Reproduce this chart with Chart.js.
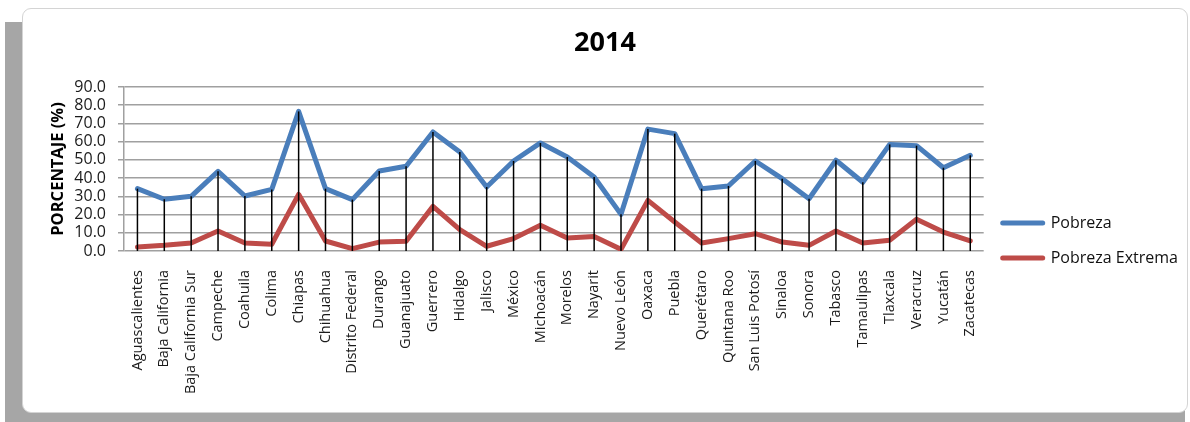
<!DOCTYPE html>
<html>
<head>
<meta charset="utf-8">
<script src="https://cdn.jsdelivr.net/npm/chart.js@4"></script>
<style>
  html, body { margin: 0; padding: 0; background: #fff; }
  #shadow { position: absolute; left: 5px; top: 22px; width: 1180px; height: 400px; background: #a6a6a6; }
  #frame { position: absolute; left: 22px; top: 8px; width: 1164px; height: 403px; background: #fff;
           border: 1px solid #d4d4d4; border-radius: 9px; }
  #wrap { position: absolute; left: 22px; top: 8px; width: 1166px; height: 405px; }
</style>
</head>
<body>
<div id="shadow"></div>
<div id="frame"></div>
<div id="wrap"><canvas id="chart" width="1166" height="405"></canvas></div>
<script>
// Entidades federativas
const estados = [
  'Aguascalientes', 'Baja California', 'Baja California Sur', 'Campeche', 'Coahuila', 'Colima',
  'Chiapas', 'Chihuahua', 'Distrito Federal', 'Durango', 'Guanajuato', 'Guerrero', 'Hidalgo',
  'Jalisco', 'México', 'Michoacán', 'Morelos', 'Nayarit', 'Nuevo León', 'Oaxaca', 'Puebla',
  'Querétaro', 'Quintana Roo', 'San Luis Potosí', 'Sinaloa', 'Sonora', 'Tabasco', 'Tamaulipas',
  'Tlaxcala', 'Veracruz', 'Yucatán', 'Zacatecas'
];

// Porcentaje de población en pobreza, 2014
const pobreza = [
  34.2, 28.4, 30.0, 43.7, 30.2, 33.8, 76.6, 34.2, 28.2, 43.9, 46.5, 65.3, 54.3, 35.1, 49.4, 59.3,
  51.6, 40.6, 20.1, 66.9, 64.4, 34.2, 35.7, 49.4, 39.7, 28.7, 49.8, 37.7, 58.5, 57.8, 45.7, 52.5
];

// Porcentaje de población en pobreza extrema, 2014
const pobrezaExtrema = [
  2.2, 3.1, 4.4, 11.0, 4.4, 3.7, 31.1, 5.5, 1.3, 4.9, 5.3, 24.5, 11.7, 2.6, 6.8, 14.1,
  7.1, 8.0, 0.9, 27.8, 15.9, 4.4, 6.8, 9.5, 4.9, 3.1, 11.0, 4.4, 5.9, 17.4, 10.4, 5.5
];

// Eje vertical: 0.0 a 90.0 en pasos de 10
const yMin = 0, yMax = 90, yTickCount = 10;

const FONT = "'Open Sans', 'Noto Sans', sans-serif";
const AZUL = '#4a7ebb';
const ROJO = '#be4b48';
const GRIS = '#a0a0a0';

// Líneas de proyección: de cada punto hasta el eje horizontal
const lineasProyeccion = {
  id: 'lineasProyeccion',
  afterDatasetsDraw(chart) {
    const { ctx, scales: { x, y } } = chart;
    const base = y.getPixelForValue(yMin);
    ctx.save();
    ctx.strokeStyle = '#000';
    ctx.lineWidth = 1.5;
    pobreza.forEach((v, i) => {
      const px = x.getPixelForValue(i);
      const top = y.getPixelForValue(Math.max(v, pobrezaExtrema[i]));
      ctx.beginPath();
      ctx.moveTo(px, top);
      ctx.lineTo(px, base);
      ctx.stroke();
    });
    ctx.restore();
  }
};

// La leyenda comienza debajo del título, no en el borde superior
const leyendaBajoTitulo = {
  id: 'leyendaBajoTitulo',
  afterLayout(chart) {
    const lg = chart.legend;
    if (lg) {
      lg.top = chart.chartArea.top;
      lg.height = lg.bottom - lg.top;
    }
  }
};

new Chart(document.getElementById('chart'), {
  type: 'line',
  data: {
    labels: estados,
    datasets: [
      { label: 'Pobreza', data: pobreza, borderColor: AZUL, backgroundColor: AZUL },
      { label: 'Pobreza Extrema', data: pobrezaExtrema, borderColor: ROJO, backgroundColor: ROJO }
    ]
  },
  options: {
    responsive: false,
    animation: false,
    layout: { padding: { left: 0, right: 0, top: 0, bottom: 19 } },
    elements: {
      line: { borderWidth: 5, tension: 0, borderCapStyle: 'round', borderJoinStyle: 'round' },
      point: { radius: 0, hoverRadius: 0 }
    },
    plugins: {
      tooltip: { enabled: false },
      title: {
        display: true,
        text: '2014',
        color: '#000',
        font: { family: FONT, size: 27, weight: 'bold' },
        padding: { top: 19, bottom: 27.6 }
      },
      legend: {
        position: 'right',
        maxWidth: 206,
        labels: {
          font: { family: FONT, size: 16 },
          color: '#111',
          padding: 19,
          usePointStyle: true,
          pointStyleWidth: 40,
          generateLabels(chart) {
            return chart.data.datasets.map((ds, i) => ({
              text: ds.label,
              fillStyle: ds.borderColor,
              strokeStyle: ds.borderColor,
              lineWidth: 5,
              lineCap: 'round',
              pointStyle: 'line',
              datasetIndex: i,
              hidden: false,
              fontColor: '#111'
            }));
          }
        }
      }
    },
    scales: {
      x: {
        type: 'category',
        offset: true,
        grid: { display: false },
        border: { display: false },
        ticks: {
          autoSkip: false,
          minRotation: 90,
          maxRotation: 90,
          padding: 11,
          color: '#1a1a1a',
          font: { family: FONT, size: 14.5 }
        },
        afterFit(scale) { scale.height = 143; }
      },
      y: {
        min: yMin,
        max: yMax,
        grid: { color: GRIS, lineWidth: 1.5, tickLength: 6 },
        border: { display: true, color: GRIS, width: 1.5 },
        ticks: {
          count: yTickCount,
          autoSkip: false,
          padding: 12,
          color: '#1a1a1a',
          font: { family: FONT, size: 16, lineHeight: 1 },
          callback: v => v.toFixed(1)
        },
        title: {
          display: true,
          text: 'PORCENTAJE (%)',
          color: '#000',
          font: { family: FONT, size: 16.5, weight: 'bold' },
          padding: { top: 26, bottom: 0 }
        },
        afterFit(scale) { scale.width = 102; }
      }
    }
  },
  plugins: [lineasProyeccion, leyendaBajoTitulo]
});
</script>
</body>
</html>
